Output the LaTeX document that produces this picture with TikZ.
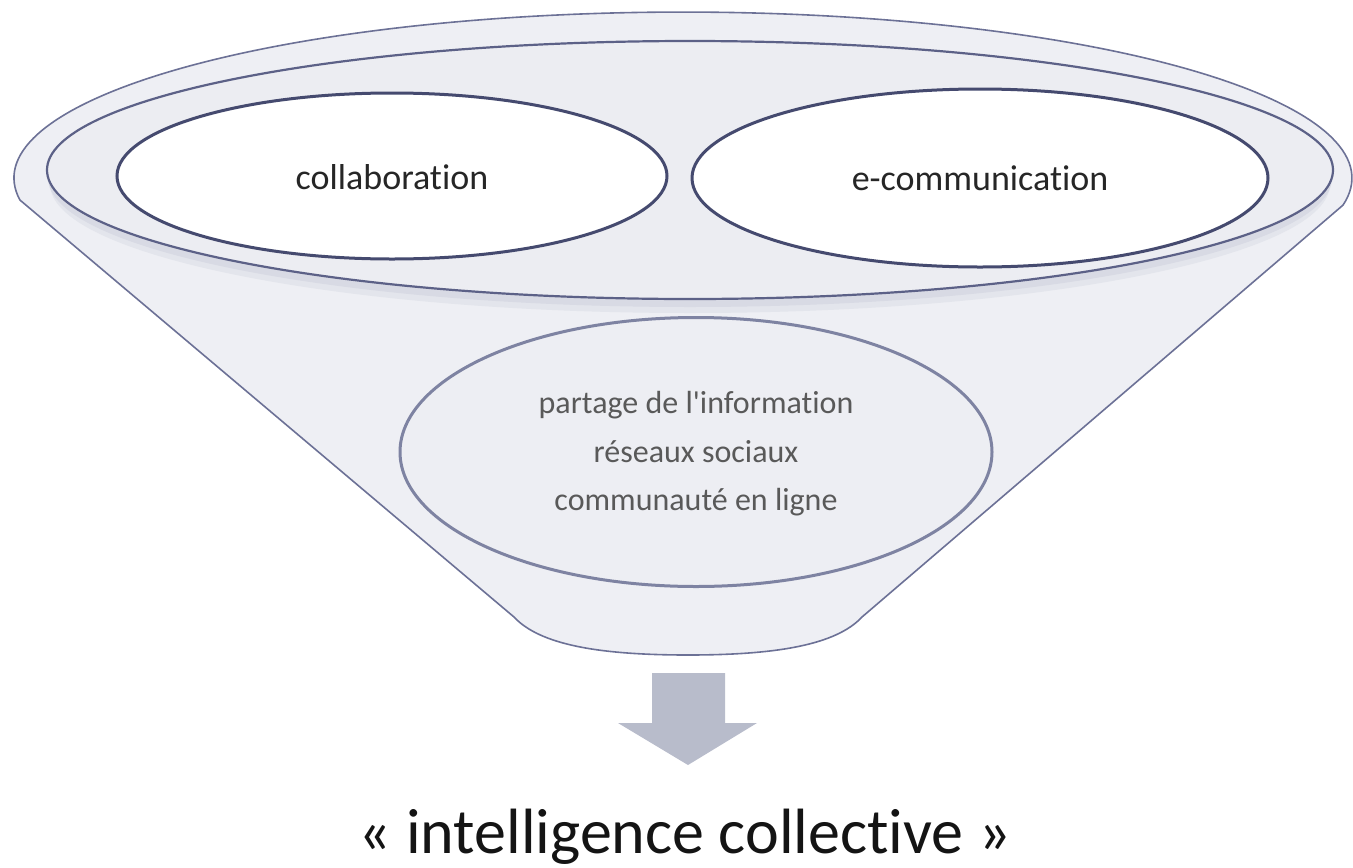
\documentclass[tikz,border=0pt]{standalone}
\usepackage{fontspec}
\setmainfont{Carlito}[Ligatures={TeXOff,CommonOff}]
\usetikzlibrary{shapes.geometric}
\definecolor{funnelfill}{HTML}{EEEFF4}
\definecolor{funnelline}{HTML}{6C7196}
\definecolor{rimfill}{HTML}{ECEDF2}
\definecolor{rimline}{HTML}{5C6187}
\definecolor{shadowA}{HTML}{D8DAE4}
\definecolor{shadowB}{HTML}{E3E5EC}
\definecolor{ovalline}{HTML}{454A6F}
\definecolor{lowline}{HTML}{7E83A2}
\definecolor{lowfill}{HTML}{EDEEF3}
\definecolor{arrowfill}{HTML}{B8BCCB}
\definecolor{darktext}{HTML}{262626}
\definecolor{greytext}{HTML}{595959}
\tikzset{
  funnelbody/.style={fill=funnelfill, draw=funnelline, line width=1.6pt, line join=round},
  rimoval/.style={ellipse, fill=rimfill, draw=rimline, line width=2.2pt, inner sep=0pt},
  topoval/.style={ellipse, fill=white, draw=ovalline, line width=3pt, inner sep=0pt},
  lowoval/.style={ellipse, fill=lowfill, draw=lowline, line width=3pt, inner sep=0pt},
  toplabel/.style={anchor=base, inner sep=0pt, text=darktext, font=\fontsize{36}{43}\selectfont},
  lowlabel/.style={anchor=base, inner sep=0pt, text=greytext, font=\fontsize{32}{38}\selectfont},
  resultlabel/.style={anchor=base, inner sep=0pt, text=black!92, font=\fontsize{64}{76}\selectfont},
}
\begin{document}
\begin{tikzpicture}[x=1pt,y=-1pt]
\useasboundingbox (0,0) rectangle (1353,868);
% funnel body
\draw[funnelbody] (19.9,200) arc[start angle=172.4,end angle=369.4,x radius=669,y radius=166]
  -- (862,617) .. controls (836,645) and (776,655) .. (688,655)
  .. controls (600,655) and (540,645) .. (514,617) -- cycle;
% shadow under the rim
\fill[shadowB] (690,184) ellipse[x radius=640, y radius=129];
\fill[shadowA] (690,178) ellipse[x radius=642, y radius=129];
% inner rim
\node[rimoval, minimum width=1286pt, minimum height=258pt] (rim) at (690,170) {};
% top ovals
\node[topoval, minimum width=550pt, minimum height=166pt] (collab) at (392,176) {};
\node[topoval, minimum width=576pt, minimum height=178pt] (ecomm) at (980,178) {};
\node[toplabel] (collabtext) at (392,189) {collaboration};
\node[toplabel] (ecommtext) at (980,190) {e-communication};
% lower oval
\node[lowoval, minimum width=592pt, minimum height=269pt] (low) at (696,452) {};
\node[lowlabel] (l1) at (696,413) {partage de l'information};
\node[lowlabel] (l2) at (696,462) {réseaux sociaux};
\node[lowlabel] (l3) at (696,510) {communauté en ligne};
% block arrow
\fill[arrowfill] (652,673) -- (725,673) -- (725,723) -- (757,723) -- (688,765)
  -- (618,723) -- (652,723) -- cycle;
% result
\node[resultlabel] (result) at (685,853) {« intelligence collective »};
\end{tikzpicture}
\end{document}
